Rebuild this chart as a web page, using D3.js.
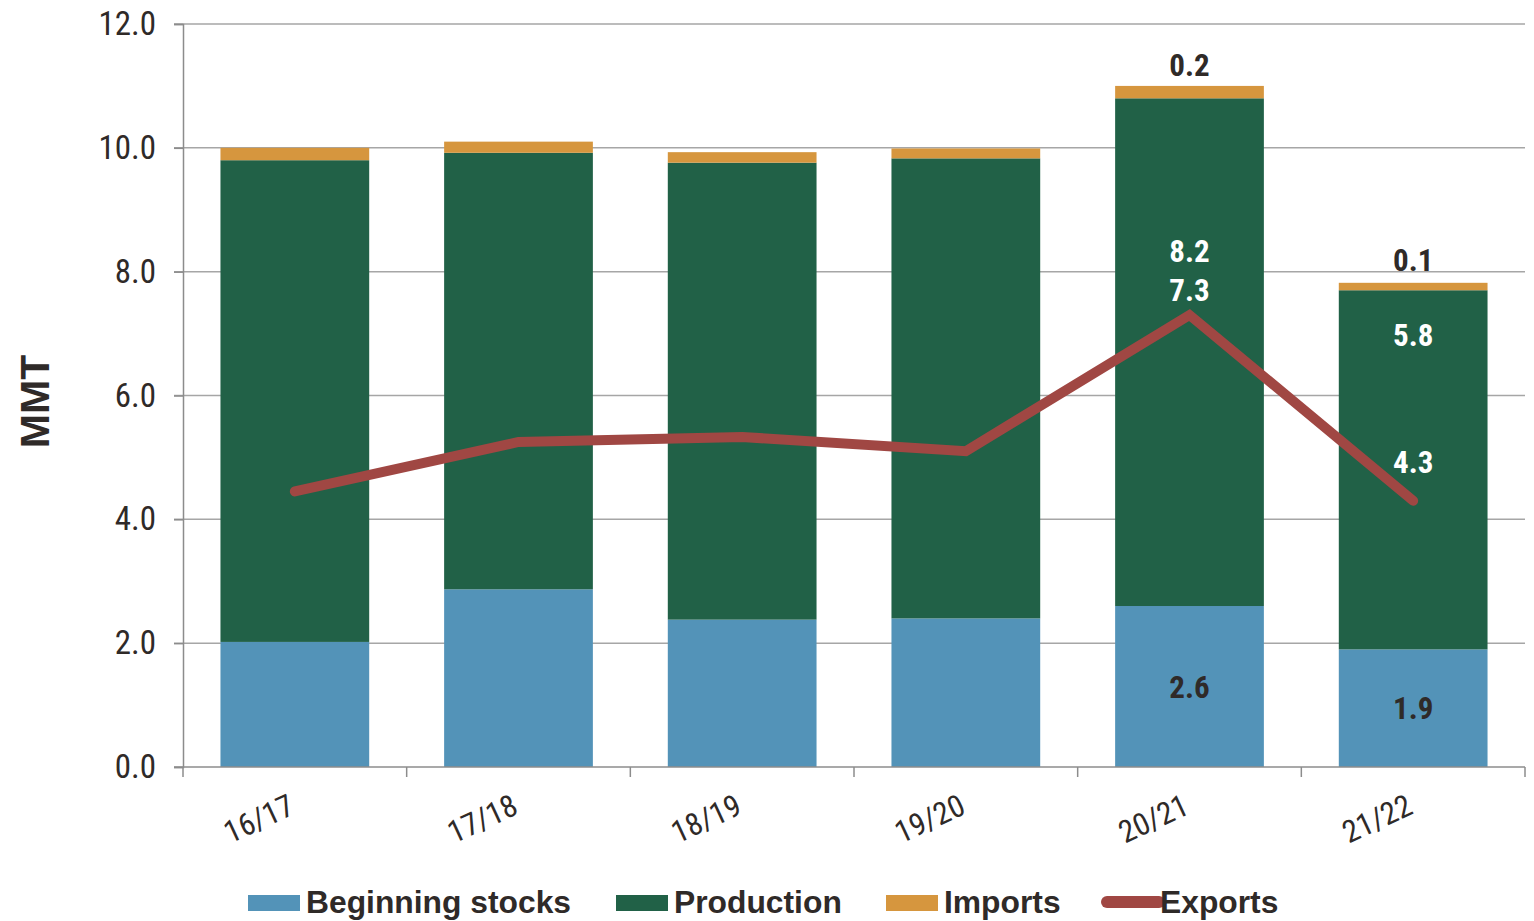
<!DOCTYPE html>
<html>
<head>
<meta charset="utf-8">
<script src="https://cdn.jsdelivr.net/npm/d3@7"></script>
<style>
  html, body { margin: 0; padding: 0; background: #ffffff; }
  svg { display: block; }
  .cond { font-family: "Roboto Condensed", "Liberation Sans Narrow", Roboto, sans-serif; }
</style>
</head>
<body>
<svg id="chart" width="1534" height="921"></svg>
<script>
// Marketing years
const years = ["16/17", "17/18", "18/19", "19/20", "20/21", "21/22"];
// Supply components (MMT)
const beginningStocks = [2.02, 2.87, 2.38, 2.4, 2.6, 1.9];
const production = [7.78, 7.05, 7.38, 7.43, 8.2, 5.8];
const imports = [0.2, 0.18, 0.17, 0.16, 0.2, 0.12];
// Exports (MMT)
const exportsVals = [4.45, 5.25, 5.33, 5.1, 7.3, 4.3];
// Y axis ticks
const yTicks = [0, 2, 4, 6, 8, 10, 12];
// Which years carry value labels
const labelled = ["20/21", "21/22"];

const colors = {
  stocks: "#5393b8",
  production: "#216147",
  imports: "#d6963e",
  exports: "#a04743"
};

const svg = d3.select("#chart");
const margin = { left: 183, right: 9, top: 24, bottom: 154 };
const W = 1534, H = 921;

const x = d3.scaleBand().domain(years).range([margin.left, W - margin.right]).paddingInner(0.335).paddingOuter(0.1675);
const y = d3.scaleLinear().domain([0, 12]).range([H - margin.bottom, margin.top]);

// Gridlines
svg.append("g").selectAll("line").data(yTicks.filter(d => d > 0)).join("line")
  .attr("x1", margin.left - 9).attr("x2", W - margin.right)
  .attr("y1", d => y(d)).attr("y2", d => y(d))
  .attr("stroke", "#a6a6a6").attr("stroke-width", 1.5);

// Stacked data
const keys = ["stocks", "production", "imports"];
const rows = years.map((yr, i) => ({ year: yr, stocks: beginningStocks[i], production: production[i], imports: imports[i] }));
const stacked = d3.stack().keys(keys)(rows);

svg.append("g").selectAll("g").data(stacked).join("g")
  .attr("fill", d => colors[d.key])
  .selectAll("rect").data(d => d).join("rect")
  .attr("x", d => x(d.data.year))
  .attr("width", x.bandwidth())
  .attr("y", d => y(d[1]))
  .attr("height", d => y(d[0]) - y(d[1]));

// Y axis
const yAxis = d3.axisLeft(y).tickValues(yTicks).tickFormat(d3.format(".1f")).tickSize(9).tickPadding(18);
const gy = svg.append("g").attr("transform", `translate(${margin.left},0)`).call(yAxis);
gy.select(".domain").attr("stroke", "#8c8c8c").attr("stroke-width", 1.5);
gy.selectAll(".tick line").attr("stroke", "#8c8c8c").attr("stroke-width", 1.5);
gy.selectAll(".tick text").attr("class", "cond").attr("font-size", 33).attr("fill", "#2f2a28");

// X axis with boundary ticks
const bottomY = y(0);
svg.append("line").attr("x1", margin.left - 9).attr("x2", W - margin.right)
  .attr("y1", bottomY).attr("y2", bottomY).attr("stroke", "#8c8c8c").attr("stroke-width", 1.5);
const step = x.step();
const bounds = d3.range(years.length + 1).map(i => margin.left + i * step);
svg.append("g").selectAll("line").data(bounds).join("line")
  .attr("x1", d => d).attr("x2", d => d).attr("y1", bottomY).attr("y2", bottomY + 10)
  .attr("stroke", "#8c8c8c").attr("stroke-width", 1.5);

svg.append("g").selectAll("text").data(years).join("text")
  .attr("class", "cond")
  .attr("transform", d => `translate(${x(d) + x.bandwidth() / 2 - 35},${bottomY + 54}) rotate(-25)`)
  .attr("text-anchor", "middle")
  .attr("dominant-baseline", "middle")
  .attr("font-size", 31).attr("fill", "#2f2a28")
  .text(d => d);

// Exports line
const line = d3.line().x((d, i) => x(years[i]) + x.bandwidth() / 2).y(d => y(d));
svg.append("path").datum(exportsVals)
  .attr("d", line).attr("fill", "none")
  .attr("stroke", colors.exports).attr("stroke-width", 10)
  .attr("stroke-linecap", "round").attr("stroke-linejoin", "miter");

// Value labels
const lab = svg.append("g").attr("class", "cond").attr("font-weight", "bold").attr("font-size", 31).attr("text-anchor", "middle");
const fmt = d3.format(".1f");
years.forEach((yr, i) => {
  if (!labelled.includes(yr)) return;
  const cx = x(yr) + x.bandwidth() / 2;
  const top = beginningStocks[i] + production[i] + imports[i];
  lab.append("text").attr("x", cx).attr("y", y(top) - (i === years.length - 1 ? 12 : 10)).attr("fill", "#2f2a28").text(fmt(imports[i]));
  lab.append("text").attr("x", cx).attr("y", y(beginningStocks[i] / 2) + 11).attr("fill", "#2f2a28").text(fmt(beginningStocks[i]));
});
// Production and exports labels
const i20 = years.indexOf("20/21"), i21 = years.indexOf("21/22");
const c20 = x("20/21") + x.bandwidth() / 2, c21 = x("21/22") + x.bandwidth() / 2;
lab.append("text").attr("x", c20).attr("y", y(exportsVals[i20]) - 53).attr("fill", "#ffffff").text(fmt(production[i20]));
lab.append("text").attr("x", c20).attr("y", y(exportsVals[i20]) - 14).attr("fill", "#ffffff").text(fmt(exportsVals[i20]));
lab.append("text").attr("x", c21).attr("y", y(beginningStocks[i21] + production[i21]) + 56).attr("fill", "#ffffff").text(fmt(production[i21]));
lab.append("text").attr("x", c21).attr("y", y(exportsVals[i21]) - 28).attr("fill", "#ffffff").text(fmt(exportsVals[i21]));

// Y axis title
svg.append("text")
  .attr("transform", `translate(49,${(y(0) + y(12)) / 2 + 6}) rotate(-90)`)
  .attr("text-anchor", "middle")
  .attr("font-family", "Liberation Sans, Arial, sans-serif")
  .attr("font-weight", "bold").attr("font-size", 41).attr("fill", "#2f2a28")
  .text("MMT");

// Legend
const legendItems = [
  { label: "Beginning stocks", key: "stocks", x: 248 },
  { label: "Production", key: "production", x: 616 },
  { label: "Imports", key: "imports", x: 886 },
  { label: "Exports", key: "exports", x: 1102, isLine: true }
];
const lg = svg.append("g");
legendItems.forEach(it => {
  if (it.isLine) {
    lg.append("line").attr("x1", it.x + 5).attr("x2", it.x + 57).attr("y1", 902).attr("y2", 902)
      .attr("stroke", colors[it.key]).attr("stroke-width", 12).attr("stroke-linecap", "round");
  } else {
    lg.append("rect").attr("x", it.x).attr("y", 895).attr("width", 52).attr("height", 16).attr("fill", colors[it.key]);
  }
  lg.append("text").attr("x", it.x + 58).attr("y", 913)
    .attr("font-family", "Liberation Sans, Arial, sans-serif")
    .attr("font-weight", "bold").attr("font-size", 31.8).attr("fill", "#2f2a28")
    .text(it.label);
});
</script>
</body>
</html>
